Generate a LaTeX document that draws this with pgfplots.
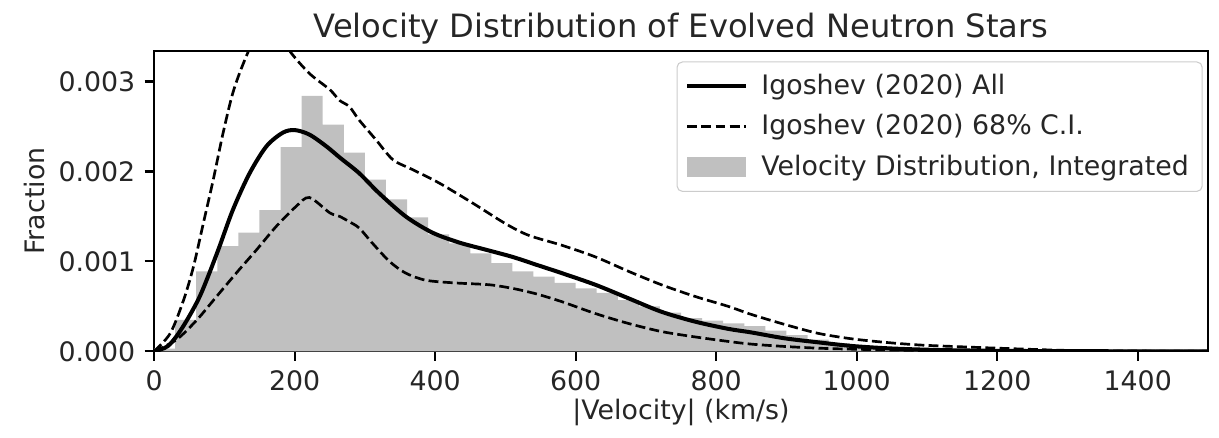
\documentclass[border=0pt]{standalone}
\usepackage{pgfplots}
\pgfplotsset{compat=1.18}
\usetikzlibrary{calc}
\usepackage{fontspec}
\setmainfont{DejaVu Sans}
\definecolor{histgray}{RGB}{192,192,192}
\definecolor{leggray}{RGB}{204,204,204}
\pgfplotsset{
  mylegline/.style={legend image code/.code={\draw[sharp corners,##1] (0pt,0pt) -- (22pt,0pt); \path (25pt,0pt);}},
  mylegarea/.style={legend image code/.code={\fill[sharp corners,##1] (0pt,-3.7pt) rectangle (22pt,3.7pt); \path (25pt,0pt);}},
}
\begin{document}
\begin{tikzpicture}
\begin{axis}[
  name=ax,
  scale only axis,
  width=393.3pt, height=112.1pt,
  xmin=0, xmax=1500, ymin=0, ymax=0.00334,
  xtick={0,200,400,600,800,1000,1200,1400},
  ytick={0,0.001,0.002,0.003},
  scaled y ticks=false,
  xticklabel style={/pgf/number format/1000 sep={}},
  yticklabel style={/pgf/number format/fixed, /pgf/number format/precision=3, /pgf/number format/fixed zerofill},
  /pgf/number format/assume math mode=true,
  every tick label/.append style={font=\fontsize{10}{12}\selectfont, text=black!85},
  tick align=outside, tick pos=left,
  major tick length=3.5pt,
  every tick/.style={black, line width=0.8pt},
  axis line style={line width=0.8pt, black},
  title={Velocity Distribution of Evolved Neutron Stars},
  title style={font=\fontsize{12}{14}\selectfont, at={(axis description cs:0.5,1)}, anchor=base, yshift=-1pt, text=black!85},
  xlabel={|Velocity| (km/s)},
  xlabel style={font=\fontsize{10}{12}\selectfont, at={(axis description cs:0.5,0)}, anchor=base, yshift=-25.6pt, text=black!85},
  ylabel={Fraction},
  ylabel style={font=\fontsize{10}{12}\selectfont, at={(axis description cs:-0.113,0.5)}, anchor=center, text=black!85},
  legend style={at={(axis description cs:0.995,0.965)}, anchor=north east, draw=leggray, rounded corners=2pt,
    font=\fontsize{10}{12}\selectfont, text=black!85, inner xsep=3pt, inner ysep=2.5pt, row sep=2pt,
    nodes={inner sep=2pt}},
  legend cell align=left,
]
\addplot[const plot, fill=histgray, draw=none, forget plot] coordinates {
(0,0.00003) (30,0.00035) (60,0.00089) (90,0.00117) (120,0.00132) (150,0.00157)
(180,0.00227) (210,0.00284) (240,0.00252) (270,0.00221) (300,0.00191) (330,0.00169)
(360,0.00149) (390,0.00130) (420,0.00120) (450,0.00109) (480,0.00098) (510,0.00089)
(540,0.00083) (570,0.00076) (600,0.00070) (630,0.00065) (660,0.00057) (690,0.00050)
(720,0.00043) (750,0.00037) (780,0.00034) (810,0.00031) (840,0.00028) (870,0.00023)
(900,0.00018) (930,0.00013) (960,0.00009) (990,0.00006) (1020,0.00004) (1050,0.00002)
(1080,0.00001) (1110,0.000005) (1140,0.000005)
} \closedcycle;
% solid
\addplot[black, line width=1.5pt, smooth, forget plot] coordinates {
(0,0) (20,0.00006) (40,0.00026) (65,0.00061) (90,0.00110) (112,0.00157) (136,0.00198)
(160,0.00228) (183,0.00243) (200,0.00246) (221,0.00241) (245,0.00228) (265,0.00215)
(292,0.00198) (320,0.00176) (358,0.00150) (396,0.00132) (434,0.00121) (472,0.00113)
(510,0.00105) (545,0.00096) (580,0.00087) (628,0.00074) (675,0.00059) (722,0.00044)
(770,0.00033) (817,0.00025) (850,0.00021) (897,0.000145) (945,0.0001) (992,0.00006)
(1040,0.000035) (1090,0.00002) (1150,0.00001) (1250,0.000003) (1400,0) (1500,0)
};
% upper dashed
\addplot[black, line width=1pt, dash pattern=on 3.7pt off 1.6pt, smooth, forget plot] coordinates {
(0,0) (23,0.0002) (42,0.00057) (56,0.00094) (70,0.00142) (84,0.00190) (98,0.00242)
(112,0.00287) (127,0.00320) (145,0.0035) (165,0.0036) (180,0.00355) (193,0.00334)
(221,0.00309) (250,0.00291) (264,0.00279) (278,0.00272) (292,0.00257) (316,0.00235)
(340,0.00213) (368,0.00202) (406,0.00187) (453,0.00165) (500,0.00142) (533,0.00129)
(580,0.00118) (628,0.00105) (675,0.00089) (722,0.00074) (770,0.00061) (817,0.00050)
(850,0.00041) (897,0.00030) (945,0.00020) (992,0.00014) (1040,0.00010) (1090,0.00007)
(1150,0.00005) (1200,0.000035) (1300,0.00001) (1400,0.000003) (1500,0)
};
% lower dashed
\addplot[black, line width=1pt, dash pattern=on 3.7pt off 1.6pt, smooth, forget plot] coordinates {
(0,0) (32,0.00013) (61,0.00035) (89,0.00061) (117,0.00087) (146,0.00113) (174,0.00139)
(202,0.00161) (221,0.00171) (250,0.00154) (264,0.00150) (278,0.00144) (292,0.00137)
(311,0.00120) (335,0.00100) (358,0.00087) (387,0.00079) (429,0.00076) (477,0.00074)
(510,0.00070) (533,0.00066) (548,0.00063) (581,0.00055) (628,0.00042) (675,0.00031)
(722,0.00022) (770,0.00016) (817,0.00011) (850,0.00008) (897,0.000054) (945,0.000035)
(992,0.000024) (1086,0.00001) (1200,0.000003) (1300,0) (1500,0)
};
\addlegendimage{mylegline, black, line width=1.5pt}
\addlegendentry{Igoshev (2020) All}
\addlegendimage{mylegline, black, line width=1pt, dash pattern=on 3.7pt off 1.6pt}
\addlegendentry{Igoshev (2020) 68\% C.I.}
\addlegendimage{mylegarea, fill=histgray, draw=none}
\addlegendentry{Velocity Distribution, Integrated}
\end{axis}
\pgfresetboundingbox
\path[use as bounding box] ($(ax.south west)+(-57.5pt,-32.3pt)$) rectangle ($(ax.north east)+(4.1pt,19.0pt)$);
\end{tikzpicture}
\end{document}
